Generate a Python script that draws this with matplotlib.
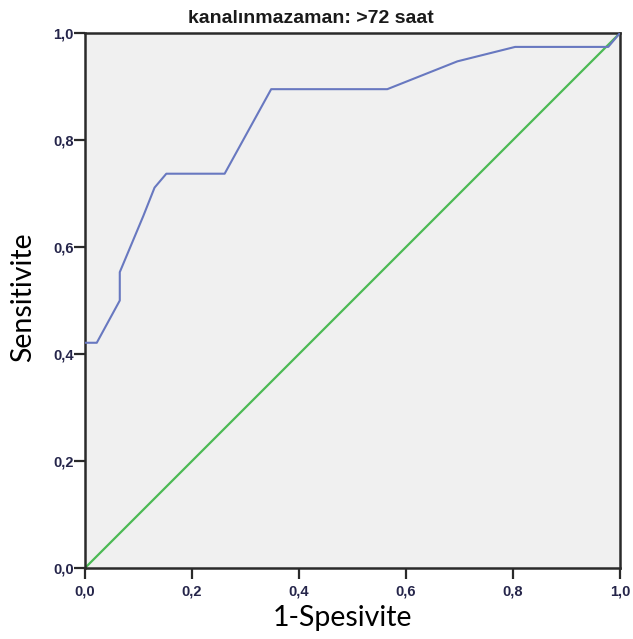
import numpy as np
import matplotlib.pyplot as plt

# ROC curve points
fpr = [0.0, 0.022, 0.065, 0.065, 0.109, 0.130, 0.152, 0.261, 0.348, 0.565, 0.696, 0.804, 0.978, 1.0]
tpr = [0.421, 0.421, 0.500, 0.553, 0.658, 0.711, 0.737, 0.737, 0.895, 0.895, 0.947, 0.974, 0.974, 1.0]
ref_line = [0.0, 1.0]

ticks = [0.0, 0.2, 0.4, 0.6, 0.8, 1.0]
tick_labels = ['0,0', '0,2', '0,4', '0,6', '0,8', '1,0']


def main():
    fig = plt.figure(figsize=(6.33, 6.39), dpi=100)
    ax = fig.add_axes([85 / 633, 71 / 639, 535 / 633, 535 / 639])
    ax.set_facecolor('#f0f0f0')

    ax.plot(ref_line, ref_line, color='#4cba55', lw=1.6, zorder=2)
    ax.plot(fpr, tpr, color='#6878c0', lw=1.5, zorder=3)

    ax.set_xlim(0, 1)
    ax.set_ylim(0, 1)
    ax.set_xticks(ticks)
    ax.set_yticks(ticks)
    ax.set_xticklabels(tick_labels)
    ax.set_yticklabels(tick_labels)
    ax.tick_params(direction='out', length=8, width=1.6, colors='#2a2a2a',
                   labelsize=10.5, labelcolor='#25254a')
    ax.tick_params(axis='x', pad=4)
    ax.tick_params(axis='y', pad=0)
    for lbl in ax.get_xticklabels() + ax.get_yticklabels():
        lbl.set_fontfamily('Liberation Sans')
        lbl.set_fontweight('bold')
    for s in ax.spines.values():
        s.set_linewidth(1.8)
        s.set_color('#2a2a2a')

    ax.set_title('kanalınmazaman: >72 saat', fontsize=14, fontweight='bold',
                 family='Liberation Sans', color='#1a1a1a', pad=0,
                 x=(311 - 85) / 535, y=(568 - 23) / 535, va='baseline')

    ax.set_xlabel('1-Spesivite', fontsize=20.5, family='Lato')
    ax.xaxis.set_label_coords((342 - 85) / 535, (568 - 626) / 535)
    ax.xaxis.label.set_verticalalignment('baseline')

    ax.set_ylabel('Sensitivite', fontsize=20.5, family='Lato')
    ax.yaxis.set_label_coords((31 - 85) / 535, (568 - 297) / 535)
    ax.yaxis.label.set_verticalalignment('baseline')

    fig.savefig('out.png', dpi=100)


if __name__ == '__main__':
    main()
